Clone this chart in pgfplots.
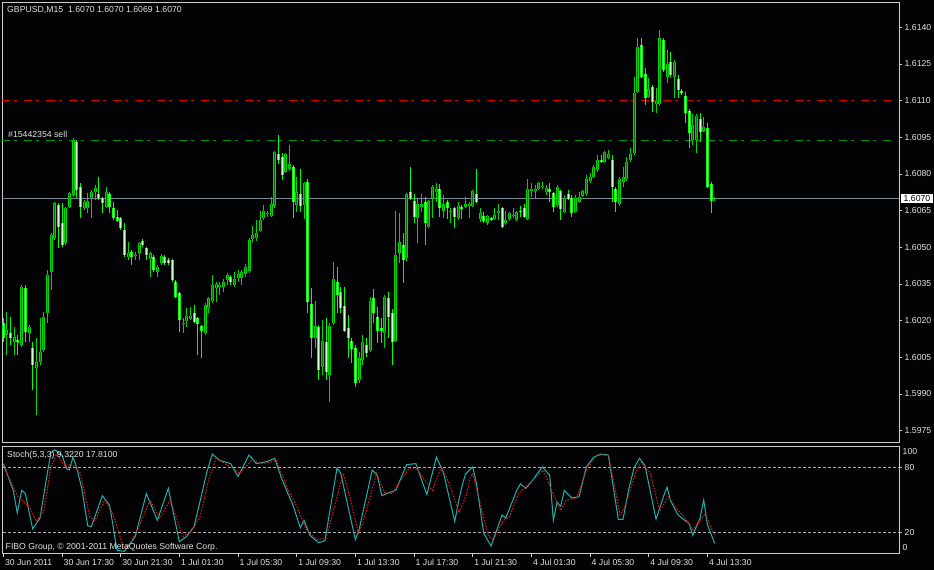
\documentclass[border=0pt]{standalone}
\usepackage{pgfplots}
\pgfplotsset{compat=1.18}
\usepackage{pgfplotstable}
\usepackage{fontspec}
\setmainfont{Liberation Sans}
\definecolor{bg}{RGB}{3,3,6}
\definecolor{frame}{RGB}{205,205,205}
\definecolor{txt}{RGB}{225,225,225}
\definecolor{bullc}{RGB}{0,215,0}
\definecolor{bullf}{RGB}{0,120,0}
\definecolor{bearc}{RGB}{0,255,0}
\definecolor{bearf}{RGB}{205,255,205}
\definecolor{stk}{RGB}{32,178,170}
\definecolor{sigc}{RGB}{235,25,25}
\definecolor{bidc}{RGB}{119,136,153}
\definecolor{ordg}{RGB}{0,150,0}
\definecolor{ordr}{RGB}{225,0,0}
\definecolor{lvl}{RGB}{175,175,175}
\newcommand\cf{\fontsize{8.7}{10}\selectfont}

% i open high low close type(1=bull,0=bear)
\pgfplotstableread{
i o h l c t
0 1.60189 1.60209 1.60114 1.60128 0
1 1.60141 1.60237 1.60059 1.60162 1
2 1.60148 1.60216 1.60100 1.60128 0
3 1.60114 1.60175 1.60059 1.60134 1
4 1.60121 1.60141 1.60059 1.60114 0
5 1.60100 1.60346 1.60094 1.60339 1
6 1.60332 1.60346 1.60114 1.60155 0
7 1.60148 1.60175 1.60114 1.60175 1
8 1.60087 1.60114 1.59916 1.60019 0
9 1.60005 1.60128 1.59814 1.60032 1
10 1.60032 1.60209 1.60019 1.60073 1
11 1.60080 1.60237 1.60073 1.60216 1
12 1.60230 1.60407 1.60189 1.60387 1
13 1.60400 1.60557 1.60325 1.60550 1
14 1.60537 1.60687 1.60530 1.60680 1
15 1.60673 1.60680 1.60496 1.60584 0
16 1.60598 1.60680 1.60503 1.60509 0
17 1.60516 1.60666 1.60509 1.60659 1
18 1.60666 1.60728 1.60659 1.60721 1
19 1.60714 1.60939 1.60707 1.60939 1
20 1.60932 1.60939 1.60700 1.60734 0
21 1.60748 1.60762 1.60619 1.60666 0
22 1.60659 1.60694 1.60653 1.60687 1
23 1.60659 1.60721 1.60639 1.60689 1
24 1.60700 1.60734 1.60619 1.60728 1
25 1.60728 1.60755 1.60694 1.60741 1
26 1.60717 1.60789 1.60694 1.60703 0
27 1.60700 1.60707 1.60639 1.60680 0
28 1.60666 1.60748 1.60666 1.60728 1
29 1.60717 1.60728 1.60639 1.60666 0
30 1.60659 1.60687 1.60612 1.60619 0
31 1.60625 1.60653 1.60605 1.60609 0
32 1.60619 1.60625 1.60571 1.60578 0
33 1.60571 1.60598 1.60462 1.60469 0
34 1.60462 1.60523 1.60448 1.60475 1
35 1.60482 1.60482 1.60428 1.60462 0
36 1.60467 1.60482 1.60448 1.60469 1
37 1.60475 1.60523 1.60448 1.60516 1
38 1.60526 1.60530 1.60503 1.60509 0
39 1.60496 1.60503 1.60448 1.60469 0
40 1.60452 1.60482 1.60380 1.60475 1
41 1.60462 1.60469 1.60400 1.60407 0
42 1.60400 1.60428 1.60380 1.60418 1
43 1.60434 1.60469 1.60428 1.60466 1
44 1.60462 1.60469 1.60428 1.60434 0
45 1.60448 1.60455 1.60428 1.60434 0
46 1.60448 1.60452 1.60359 1.60366 0
47 1.60359 1.60366 1.60291 1.60298 0
48 1.60312 1.60319 1.60155 1.60203 0
49 1.60189 1.60209 1.60148 1.60192 1
50 1.60198 1.60250 1.60175 1.60220 1
51 1.60207 1.60257 1.60203 1.60220 1
52 1.60230 1.60264 1.60189 1.60196 0
53 1.60209 1.60212 1.60059 1.60186 0
54 1.60178 1.60182 1.60046 1.60158 0
55 1.60148 1.60267 1.60148 1.60264 1
56 1.60250 1.60298 1.60230 1.60291 1
57 1.60280 1.60387 1.60278 1.60346 1
58 1.60335 1.60359 1.60278 1.60349 1
59 1.60339 1.60359 1.60305 1.60346 1
60 1.60339 1.60370 1.60319 1.60359 1
61 1.60366 1.60389 1.60346 1.60387 1
62 1.60379 1.60387 1.60346 1.60357 0
63 1.60346 1.60400 1.60339 1.60370 1
64 1.60376 1.60407 1.60359 1.60389 1
65 1.60376 1.60407 1.60346 1.60400 1
66 1.60389 1.60430 1.60380 1.60421 1
67 1.60403 1.60539 1.60400 1.60530 1
68 1.60534 1.60589 1.60520 1.60550 1
69 1.60537 1.60612 1.60526 1.60557 1
70 1.60567 1.60649 1.60564 1.60612 1
71 1.60619 1.60673 1.60612 1.60649 1
72 1.60639 1.60649 1.60625 1.60641 1
73 1.60629 1.60707 1.60625 1.60677 1
74 1.60669 1.60891 1.60659 1.60889 1
75 1.60880 1.60959 1.60839 1.60857 0
76 1.60871 1.60884 1.60775 1.60796 0
77 1.60809 1.60880 1.60803 1.60880 1
78 1.60819 1.60919 1.60816 1.60839 1
79 1.60827 1.60837 1.60619 1.60687 0
80 1.60673 1.60789 1.60646 1.60728 1
81 1.60717 1.60820 1.60646 1.60669 0
82 1.60673 1.60762 1.60616 1.60762 1
83 1.60769 1.60779 1.60230 1.60278 0
84 1.60267 1.60332 1.60046 1.60128 0
85 1.60128 1.60280 1.60087 1.60178 1
86 1.60173 1.60182 1.59957 1.59998 0
87 1.60012 1.60203 1.59978 1.60117 1
88 1.60114 1.60209 1.59957 1.59991 0
89 1.59978 1.60189 1.59869 1.60178 1
90 1.60189 1.60441 1.60182 1.60370 1
91 1.60359 1.60418 1.60230 1.60305 0
92 1.60319 1.60339 1.60230 1.60250 0
93 1.60260 1.60339 1.60155 1.60158 0
94 1.60171 1.60223 1.60046 1.60128 0
95 1.60117 1.60128 1.60025 1.60084 0
96 1.60089 1.60100 1.59930 1.59946 0
97 1.59957 1.60073 1.59944 1.60049 1
98 1.60039 1.60141 1.60019 1.60111 1
99 1.60100 1.60130 1.60053 1.60066 0
100 1.60080 1.60298 1.60073 1.60280 1
101 1.60291 1.60329 1.60189 1.60230 0
102 1.60216 1.60257 1.60107 1.60158 0
103 1.60171 1.60209 1.60107 1.60159 0
104 1.60148 1.60305 1.60087 1.60298 1
105 1.60291 1.60319 1.60128 1.60216 0
106 1.60230 1.60248 1.60019 1.60111 0
107 1.60117 1.60649 1.60114 1.60469 1
108 1.60475 1.60639 1.60434 1.60520 1
109 1.60509 1.60557 1.60353 1.60448 0
110 1.60458 1.60721 1.60444 1.60717 1
111 1.60728 1.60827 1.60694 1.60700 0
112 1.60689 1.60717 1.60598 1.60625 0
113 1.60619 1.60700 1.60516 1.60676 1
114 1.60666 1.60717 1.60646 1.60676 1
115 1.60687 1.60707 1.60509 1.60598 0
116 1.60584 1.60689 1.60584 1.60689 1
117 1.60700 1.60752 1.60619 1.60748 1
118 1.60728 1.60762 1.60687 1.60739 1
119 1.60737 1.60758 1.60625 1.60659 0
120 1.60649 1.60714 1.60619 1.60676 1
121 1.60687 1.60689 1.60616 1.60659 0
122 1.60646 1.60659 1.60598 1.60649 1
123 1.60659 1.60666 1.60580 1.60625 0
124 1.60619 1.60687 1.60616 1.60670 1
125 1.60666 1.60673 1.60616 1.60657 0
126 1.60666 1.60707 1.60659 1.60676 1
127 1.60670 1.60684 1.60619 1.60676 1
128 1.60670 1.60734 1.60666 1.60730 1
129 1.60717 1.60820 1.60687 1.60687 0
130 1.60616 1.60659 1.60605 1.60639 1
131 1.60629 1.60646 1.60598 1.60608 0
132 1.60598 1.60632 1.60595 1.60628 1
133 1.60619 1.60621 1.60609 1.60612 0
134 1.60616 1.60659 1.60612 1.60632 1
135 1.60639 1.60676 1.60612 1.60649 1
136 1.60659 1.60662 1.60578 1.60584 0
137 1.60598 1.60649 1.60591 1.60612 1
138 1.60616 1.60646 1.60608 1.60639 1
139 1.60629 1.60659 1.60619 1.60631 1
140 1.60612 1.60649 1.60608 1.60643 1
141 1.60649 1.60670 1.60625 1.60647 0
142 1.60659 1.60676 1.60621 1.60625 0
143 1.60616 1.60779 1.60616 1.60739 1
144 1.60730 1.60762 1.60707 1.60739 1
145 1.60730 1.60755 1.60703 1.60739 1
146 1.60739 1.60769 1.60734 1.60762 1
147 1.60750 1.60766 1.60739 1.60752 1
148 1.60728 1.60755 1.60714 1.60741 1
149 1.60739 1.60762 1.60687 1.60728 0
150 1.60721 1.60721 1.60646 1.60666 0
151 1.60673 1.60748 1.60666 1.60748 1
152 1.60730 1.60734 1.60612 1.60657 0
153 1.60646 1.60714 1.60646 1.60703 1
154 1.60717 1.60734 1.60694 1.60698 0
155 1.60703 1.60714 1.60625 1.60639 0
156 1.60646 1.60714 1.60646 1.60703 1
157 1.60687 1.60728 1.60680 1.60707 1
158 1.60711 1.60730 1.60711 1.60730 1
159 1.60717 1.60796 1.60714 1.60779 1
160 1.60771 1.60803 1.60768 1.60789 1
161 1.60789 1.60837 1.60789 1.60830 1
162 1.60816 1.60878 1.60809 1.60857 1
163 1.60857 1.60878 1.60848 1.60850 0
164 1.60850 1.60891 1.60848 1.60889 1
165 1.60867 1.60898 1.60864 1.60880 1
166 1.60857 1.60878 1.60687 1.60748 0
167 1.60739 1.60741 1.60646 1.60687 0
168 1.60676 1.60789 1.60673 1.60779 1
169 1.60768 1.60830 1.60748 1.60789 1
170 1.60779 1.60871 1.60775 1.60850 1
171 1.60857 1.60908 1.60853 1.60880 1
172 1.60884 1.61198 1.60878 1.61130 1
173 1.61137 1.61355 1.61137 1.61321 1
174 1.61328 1.61358 1.61191 1.61198 0
175 1.61208 1.61232 1.61082 1.61109 0
176 1.61116 1.61191 1.61116 1.61148 1
177 1.61157 1.61164 1.61052 1.61096 0
178 1.61085 1.61150 1.61048 1.61099 1
179 1.61085 1.61389 1.61082 1.61355 1
180 1.61348 1.61355 1.61219 1.61225 0
181 1.61198 1.61307 1.61171 1.61249 1
182 1.61259 1.61300 1.61198 1.61205 0
183 1.61198 1.61262 1.61109 1.61259 1
184 1.61189 1.61205 1.61109 1.61144 0
185 1.61139 1.61148 1.61123 1.61130 0
186 1.61120 1.61137 1.61007 1.61048 0
187 1.61058 1.61062 1.60908 1.60966 0
188 1.60939 1.61044 1.60919 1.61000 1
189 1.60939 1.61044 1.60884 1.61039 1
190 1.61025 1.61048 1.60932 1.60970 0
191 1.60976 1.61034 1.60976 1.60994 1
192 1.60987 1.61007 1.60748 1.60748 0
193 1.60758 1.60769 1.60639 1.60689 0
194 1.60700 1.60700 1.60690 1.60700 1
}\bars

\pgfplotstableread{
x k
0 84
2.7 59
3.8 38
5 59
6 56
8 23
10 33
12 75
13 94
14 97
16 92
17.3 79
18 78
19 90
20 80
21.4 61
23 26
24 25
27 54
29 45
31 3
33 2
36 16
39 56
42 31
45 61
48 11
50 16
52 25
53.6 48
55.5 76
57 93
59 87
62 84
64 72
67 92
69 84
72 86
74 89
76 69
79 45
81 24
82 31
83.6 17
86 10
87.7 12
91 80
92 75
96 13
97 22
100.6 78
102 73
103.2 54
105.3 57
107 59
110 83
112.5 84
115.5 55
118.1 90
120 76
123.1 30
124 46
125 62
126 74
128 81
129 66
131 19
133 7
136 36
137 33
140 59
141 65
142.5 61
144 67
147 81
149 73
150 31
151 48
152 44
153 59
155 52
157 53
159 81
161 90
163 93
165 92
167.7 32
169 32
170.5 59
172 80
173.5 89
175 82
178 32
180 53
181 62
182 49
184 36
187 28
188 17
190 33
191 50
192 27
194 9.322
}\stochK

\pgfplotstableread{
x d
0 82
4 53
7 44
9 30
11 40
13 81
14.5 93
17 81
18.6 84
21 75
23.6 34
25 31
27.7 50
30 36
32.7 6
34.5 9
37 25
40 50
42.7 33
45.5 50
49 16
51 20
53.6 34
56 69
58 89
60.5 84
64.5 75
67.7 87
71 84
74.5 87
77.3 62
80 44
82.7 22
85.5 13
88 14
92.7 75
94.5 53
96.8 19
98 28
101.8 75
104 57
106 56
110.5 79
112.7 79
117 59
119.5 81
122 62
124.3 38
126.4 56
127.3 71
128 75
130 47
132.3 16
133.6 13
136.4 31
138 34
140.5 56
143 64
147.3 78
149.5 59
152 40
153.6 50
156.4 52
159 78
161.8 92
165 92
166 75
168.2 36
169.5 44
172.7 78
174 85
176.4 75
179 40
181.4 53
183.6 42
186 33
188 22
191.4 37
193.7 19
194 17.81
}\stochD

\begin{document}
\begin{tikzpicture}
\useasboundingbox (0,0) rectangle (934pt,570pt);
\fill[bg] (0,0) rectangle (934pt,570pt);

\begin{axis}[
  at={(2.5pt,127pt)}, anchor=south west, scale only axis,
  width=896.5pt, height=440.5pt,
  xmin=-0.227, xmax=244.26, ymin=1.596994, ymax=1.615015,
  clip=false,
  axis line style={draw=frame, line width=1pt},
  xtick=\empty,
  ytick={1.5975,1.5990,1.6005,1.6020,1.6035,1.6050,1.6065,1.6080,1.6095,1.6110,1.6125,1.6140},
  yticklabels={1.5975,1.5990,1.6005,1.6020,1.6035,1.6050,1.6065,1.6080,1.6095,1.6110,1.6125,1.6140},
  ytick pos=right, yticklabel pos=right,
  tick align=outside, major tick length=3pt,
  tick style={draw=frame, line width=0.8pt},
  yticklabel style={font=\cf, text=txt, inner sep=0pt, xshift=2.5pt},
]
% order / bid lines
\addplot[ordr, line width=1pt, dash pattern=on 8pt off 4pt on 3pt off 7pt] coordinates {(-0.227,1.6110) (242.3,1.6110)};
\addplot[ordg, line width=1pt, dash pattern=on 8pt off 4pt on 3pt off 7pt] coordinates {(-0.227,1.60937) (242.3,1.60937)};
\addplot[bidc, line width=1pt] coordinates {(-0.227,1.6070) (244.26,1.6070)};

% bull candles
\addplot[draw=none, mark=none, x filter/.expression={\thisrow{t}>0.5 ? x : nan},
  error bars/.cd, y dir=minus, y explicit, error mark=none,
  error bar style={draw=bullc, line width=1pt}]
  table[x=i, y=h, y error minus expr=\thisrow{h}-\thisrow{l}] {\bars};
\addplot[draw=none, mark=none, x filter/.expression={\thisrow{t}>0.5 ? x : nan},
  error bars/.cd, y dir=both, y explicit, error mark=-,
  error mark options={draw=bullc, line width=1pt, mark size=1.5pt},
  error bar style={draw=bullc, line width=3pt}]
  table[x=i, y=c, y error plus expr=0, y error minus expr=\thisrow{c}-\thisrow{o}] {\bars};
\addplot[draw=none, mark=none, x filter/.expression={\thisrow{t}>0.5 ? x : nan},
  error bars/.cd, y dir=minus, y explicit, error mark=none,
  error bar style={draw=bullf, line width=1pt}]
  table[x=i, y=c, y error minus expr=\thisrow{c}-\thisrow{o}] {\bars};

% bear candles
\addplot[draw=none, mark=none, x filter/.expression={\thisrow{t}<0.5 ? x : nan},
  error bars/.cd, y dir=minus, y explicit, error mark=none,
  error bar style={draw=bearc, line width=1pt}]
  table[x=i, y=h, y error minus expr=\thisrow{h}-\thisrow{l}] {\bars};
\addplot[draw=none, mark=none, x filter/.expression={\thisrow{t}<0.5 ? x : nan},
  error bars/.cd, y dir=both, y explicit, error mark=-,
  error mark options={draw=bearc, line width=1pt, mark size=1.5pt},
  error bar style={draw=bearc, line width=3pt}]
  table[x=i, y=o, y error plus expr=0, y error minus expr=\thisrow{o}-\thisrow{c}] {\bars};
\addplot[draw=none, mark=none, x filter/.expression={\thisrow{t}<0.5 ? x : nan},
  error bars/.cd, y dir=minus, y explicit, error mark=none,
  error bar style={draw=bearf, line width=1pt}]
  table[x=i, y=o, y error minus expr=\thisrow{o}-\thisrow{c}] {\bars};

\node[anchor=base west, font=\cf, text=txt, inner sep=0pt, xshift=4.5pt, yshift=-9.8pt]
  at (rel axis cs:0,1) {GBPUSD,M15\ \ 1.6070 1.6070 1.6069 1.6070};
\node[anchor=base west, font=\cf, text=txt, inner sep=0pt, xshift=5.5pt, yshift=3pt]
  at (axis cs:-0.227,1.60937) {\#15442354 sell};
\node[anchor=west, font=\cf, fill=white, text=black, inner xsep=2.5pt, inner ysep=1pt, text height=6pt, text depth=0.5pt, xshift=2pt]
  at (axis cs:244.26,1.6070) {1.6070};
\end{axis}

\begin{axis}[
  at={(2.5pt,16.5pt)}, anchor=south west, scale only axis,
  width=896.5pt, height=107pt,
  xmin=-0.227, xmax=244.26, ymin=0, ymax=100,
  clip=false,
  axis line style={draw=frame, line width=1pt},
  xtick={0,16,32,48,64,80,96,112,128,144,160,176,192},
  xticklabels={30 Jun 2011,30 Jun 17:30,30 Jun 21:30,1 Jul 01:30,1 Jul 05:30,1 Jul 09:30,1 Jul 13:30,1 Jul 17:30,1 Jul 21:30,4 Jul 01:30,4 Jul 05:30,4 Jul 09:30,4 Jul 13:30},
  xtick pos=left,
  ytick={20,80}, yticklabels={20,80},
  ytick pos=right, yticklabel pos=right,
  tick align=outside, major tick length=3pt,
  tick style={draw=frame, line width=0.8pt},
  xticklabel style={font=\cf, text=txt, anchor=north west, inner sep=0pt, xshift=1.5pt, yshift=-2.5pt},
  yticklabel style={font=\cf, text=txt, inner sep=0pt, xshift=2.5pt},
]
\addplot[lvl, line width=0.8pt, dash pattern=on 3pt off 2pt] coordinates {(-0.227,80) (244.26,80)};
\addplot[lvl, line width=0.8pt, dash pattern=on 3pt off 2pt] coordinates {(-0.227,20) (244.26,20)};
\addplot[stk, line width=1pt] table[x=x, y=k] {\stochK};
\addplot[sigc, line width=1pt, dash pattern=on 1.5pt off 1.5pt] table[x=x, y=d] {\stochD};

\node[anchor=base west, font=\cf, text=txt, inner sep=0pt, xshift=4.5pt, yshift=-11.2pt]
  at (rel axis cs:0,1) {Stoch(5,3,3) 9.3220 17.8100};
\node[anchor=base west, font=\cf, text=txt, inner sep=0pt, xshift=3pt, yshift=3.8pt]
  at (rel axis cs:0,0) {FIBO Group, © 2001-2011 MetaQuotes Software Corp.};
\node[anchor=west, font=\cf, text=txt, inner sep=0pt, xshift=3.5pt, yshift=-5.5pt]
  at (rel axis cs:1,1) {100};
\node[anchor=west, font=\cf, text=txt, inner sep=0pt, xshift=3.5pt, yshift=5.5pt]
  at (rel axis cs:1,0) {0};
\end{axis}
\end{tikzpicture}
\end{document}
